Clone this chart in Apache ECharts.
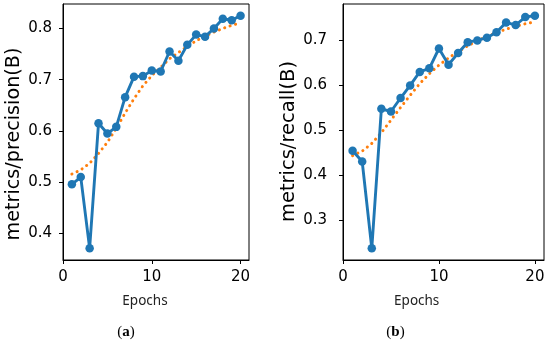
<!DOCTYPE html>
<html>
<head>
<meta charset="utf-8">
<script src="https://cdn.jsdelivr.net/npm/echarts@6/dist/echarts.min.js"></script>
<style>
html,body{margin:0;padding:0;background:#fff;}
#c{width:550px;height:345px;}
</style>
</head>
<body>
<div id="c"></div>
<script>
const epochs = [1,2,3,4,5,6,7,8,9,10,11,12,13,14,15,16,17,18,19,20];
const precision = [0.496,0.510,0.371,0.615,0.595,0.608,0.666,0.706,0.707,0.718,0.716,0.755,0.737,0.768,0.788,0.784,0.800,0.819,0.816,0.825];
const precisionTrend = [0.516,0.524,0.537,0.556,0.578,0.605,0.635,0.663,0.688,0.708,0.724,0.741,0.753,0.765,0.776,0.785,0.793,0.800,0.806,0.811];
const recall = [0.455,0.431,0.238,0.548,0.542,0.572,0.600,0.630,0.638,0.682,0.646,0.672,0.696,0.700,0.706,0.718,0.740,0.734,0.752,0.755];
const recallTrend = [0.444,0.454,0.471,0.495,0.523,0.551,0.578,0.604,0.626,0.645,0.661,0.675,0.688,0.699,0.709,0.717,0.725,0.731,0.737,0.741];
const xTicks = [0,10,20];
const precisionTicks = [0.4,0.5,0.6,0.7,0.8];
const recallTicks = [0.3,0.4,0.5,0.6,0.7];
const yNames = ['metrics/precision(B)','metrics/recall(B)'];
const xName = 'Epochs';
const panelTags = ['a','b'];

function pairs(xs, ys){ return xs.map((x,i)=>[x, ys[i]]); }
function ext(arrs){
  const all = [].concat(...arrs);
  const lo = Math.min(...all), hi = Math.max(...all), r = hi - lo;
  return [lo - 0.05*r, hi + 0.05*r];
}

const BLUE = '#1f77b4', ORANGE = '#ff7f0e';
const tickFont = {color:'#000', fontFamily:'DejaVu Sans', fontSize:15};

function xAxis(gi){
  return {
    type:'value', gridIndex:gi, min:0, max:20.95,
    axisLine:{show:true, lineStyle:{color:'#000', width:1}},
    axisTick:{show:true, length:4, lineStyle:{color:'#000'}, customValues:xTicks},
    axisLabel:Object.assign({margin:10, customValues:xTicks}, tickFont),
    splitLine:{show:false}
  };
}
function yAxis(gi, ticks, e, margin){
  return {
    type:'value', gridIndex:gi, min:e[0], max:e[1],
    axisLine:{show:true, lineStyle:{color:'#000', width:1}},
    axisTick:{show:true, length:4, lineStyle:{color:'#000'}, customValues:ticks},
    axisLabel:Object.assign({margin:margin, customValues:ticks, formatter:v=>v.toFixed(1)}, tickFont),
    splitLine:{show:false}
  };
}
function trendSeries(gi, ys){
  return {type:'line', xAxisIndex:gi, yAxisIndex:gi, data:pairs(epochs, ys), symbol:'none', z:1,
    lineStyle:{color:ORANGE, width:3, type:[0.1,5.6], cap:'round'}, silent:true, animation:false};
}
function mainSeries(gi, ys){
  return {type:'line', xAxisIndex:gi, yAxisIndex:gi, data:pairs(epochs, ys), symbol:'circle', symbolSize:8.5, z:3,
    itemStyle:{color:BLUE}, lineStyle:{color:BLUE, width:2.9}, silent:true, animation:false};
}

const chart = echarts.init(document.getElementById('c'), null, {renderer:'canvas'});
chart.setOption({
  backgroundColor:'#fff',
  animation:false,
  grid:[
    {left:63, top:4, width:186, height:256, show:true, borderColor:'#000', borderWidth:1, backgroundColor:'transparent'},
    {left:343, top:4, width:201, height:256, show:true, borderColor:'#000', borderWidth:1, backgroundColor:'transparent'}
  ],
  xAxis:[xAxis(0), xAxis(1)],
  yAxis:[
    yAxis(0, precisionTicks, ext([precision, precisionTrend]), 11),
    yAxis(1, recallTicks, ext([recall, recallTrend]), 16)
  ],
  series:[
    trendSeries(0, precisionTrend), mainSeries(0, precision),
    trendSeries(1, recallTrend), mainSeries(1, recall)
  ],
  graphic:[
    {type:'text', x:14, y:144, rotation:Math.PI/2, style:{text:yNames[0], fill:'#000', font:'19.2px "DejaVu Sans"', align:'center', verticalAlign:'middle'}},
    {type:'text', x:289, y:141.5, rotation:Math.PI/2, style:{text:yNames[1], fill:'#000', font:'19.5px "DejaVu Sans"', align:'center', verticalAlign:'middle'}},
    {type:'text', x:145, y:301, style:{text:xName, fill:'#222', font:'13.5px "Noto Sans"', align:'center', verticalAlign:'middle'}},
    {type:'text', x:416.7, y:301, style:{text:xName, fill:'#222', font:'13.5px "Noto Sans"', align:'center', verticalAlign:'middle'}},
    {type:'text', x:126, y:332, style:{text:'(' + '{b|' + panelTags[0] + '})', fill:'#000', font:'15px "Liberation Serif"', align:'center', verticalAlign:'middle', rich:{b:{fontWeight:'bold', fontFamily:'Liberation Serif', fontSize:15}}}},
    {type:'text', x:395.5, y:332, style:{text:'(' + '{b|' + panelTags[1] + '})', fill:'#000', font:'15px "Liberation Serif"', align:'center', verticalAlign:'middle', rich:{b:{fontWeight:'bold', fontFamily:'Liberation Serif', fontSize:15}}}}
  ]
});
</script>
</body>
</html>
